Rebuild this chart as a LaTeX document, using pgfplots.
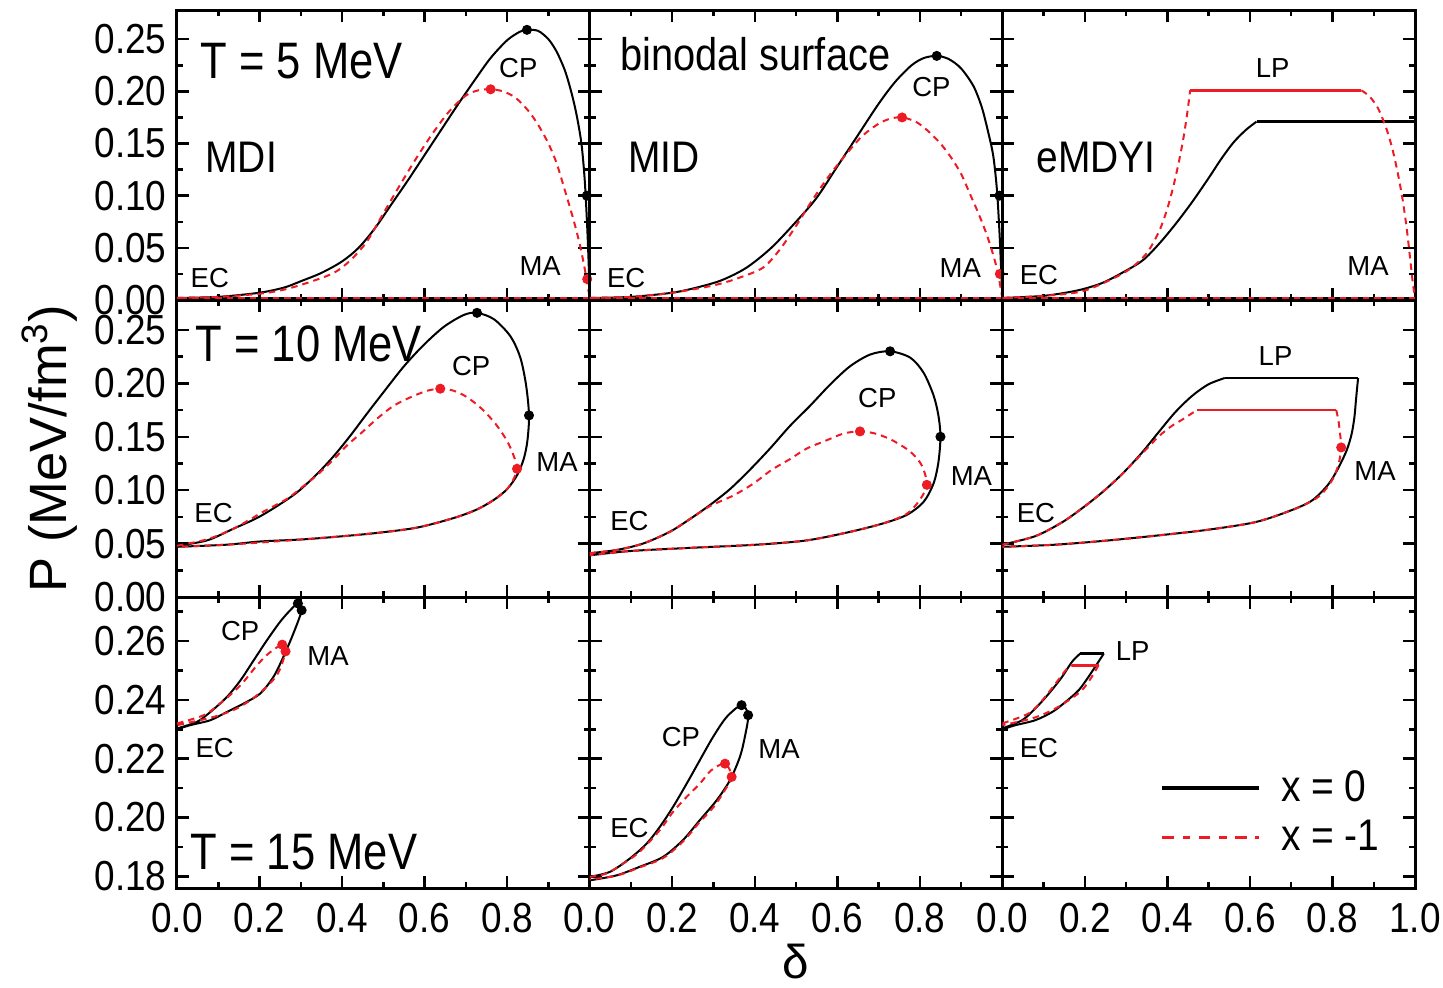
\documentclass[border=0pt]{standalone}
\usepackage{fontspec}
\setmainfont{Liberation Sans}
\usepackage{graphicx}
\usepackage{pgfplots}
\pgfplotsset{compat=1.18}
\usepgfplotslibrary{groupplots}
\definecolor{myred}{RGB}{237,28,36}
\pgfkeys{/pgf/number format/assume math mode=true}
\newcommand{\sx}[1]{\scalebox{0.88}[1]{#1}}
\tikzset{
 lsm/.style={font=\fontsize{11}{11}\selectfont, inner sep=0pt},
 lbig/.style={font=\fontsize{20.5}{20.5}\selectfont, inner sep=0pt, anchor=west},
 lmd/.style={font=\fontsize{17.7}{17.7}\selectfont, inner sep=0pt, anchor=west},
}
\pgfplotsset{
 blk/.style={black, line width=0.8pt, smooth, tension=0.5, mark=none},
 rd/.style={myred, line width=0.8pt, dash pattern=on 2.6pt off 2pt, smooth, tension=0.5, mark=none},
 blkf/.style={black, line width=1.1pt, mark=none},
 rdf/.style={myred, line width=1.1pt, mark=none},
 bm/.style={only marks, mark=*, mark size=1.8pt, black},
 rm/.style={only marks, mark=*, mark size=1.8pt, myred},
 xlab/.style={xticklabel={\sx{\pgfmathprintnumber[fixed,fixed zerofill,precision=1]{\tick}}}},
 nox/.style={xticklabels={}},
 ylab/.style={yticklabel={\sx{\pgfmathprintnumber[fixed,fixed zerofill,precision=2]{\tick}}}},
 noy/.style={yticklabels={}},
 rowA/.style={ymin=0, ymax=0.278, ytick={0,0.05,0.10,0.15,0.20,0.25}, minor ytick={0.025,0.075,0.125,0.175,0.225}, height=116pt},
 rowB/.style={ymin=0, ymax=0.278, ytick={0,0.05,0.10,0.15,0.20,0.25}, minor ytick={0.025,0.075,0.125,0.175,0.225}, height=118.8pt},
 rowC/.style={ymin=0.176, ymax=0.275, ytick={0.18,0.20,0.22,0.24,0.26}, minor ytick={0.19,0.21,0.23,0.25,0.27}, height=116.4pt},
 colAB/.style={xtick={0,0.2,0.4,0.6,0.8}},
 colC/.style={xtick={0,0.2,0.4,0.6,0.8,1.0}},
}
\begin{document}
\begin{tikzpicture}
\begin{groupplot}[
 group style={group size=3 by 3, horizontal sep=0pt, vertical sep=0pt},
 scale only axis, width=165.07pt,
 xmin=0, xmax=1, minor xtick={0.1,0.3,0.5,0.7,0.9},
 tick align=inside, xtick pos=both, ytick pos=both,
 major tick length=4.8pt, minor tick length=2.4pt,
 axis line style={line width=1.2pt},
 every tick/.style={black, line width=1pt},
 tick label style={font=\fontsize{16.8}{16.8}\selectfont},
 xticklabel style={inner sep=0pt, yshift=-6pt},
 yticklabel style={inner sep=0pt, xshift=-4pt},
 clip=true,
]
% ---------- row 1 col 1 : MDI, T = 5 MeV
\nextgroupplot[rowA, colAB, nox, ylab]
\addplot[blk] coordinates {(0,0.002) (0.1,0.003) (0.2,0.007) (0.26,0.012) (0.30,0.018) (0.35,0.026) (0.40,0.037) (0.44,0.050) (0.48,0.069) (0.52,0.092) (0.56,0.115) (0.60,0.139) (0.64,0.163) (0.68,0.187) (0.72,0.210) (0.76,0.232) (0.80,0.249) (0.83,0.257) (0.848,0.259) (0.875,0.258) (0.90,0.250) (0.92,0.238) (0.94,0.220) (0.955,0.200) (0.968,0.178) (0.980,0.150) (0.988,0.115) (0.994,0.070) (0.998,0.030) (1.0,0.003)};
\addplot[blkf, line width=0.8pt] coordinates {(1.0,0.002) (0,0.002)};
\addplot[rd] coordinates {(0,0.002) (0.1,0.003) (0.2,0.006) (0.26,0.010) (0.32,0.017) (0.38,0.026) (0.42,0.038) (0.46,0.056) (0.50,0.083) (0.54,0.110) (0.58,0.136) (0.62,0.160) (0.66,0.181) (0.70,0.196) (0.73,0.201) (0.760,0.202) (0.79,0.200) (0.82,0.194) (0.85,0.182) (0.875,0.168) (0.90,0.150) (0.92,0.131) (0.94,0.105) (0.96,0.078) (0.975,0.055) (0.988,0.030) (1.0,0.002)};
\addplot[rd, smooth=false] coordinates {(1.0,0.002) (0,0.002)};
\addplot[bm] coordinates {(0.848,0.259) (0.993,0.100)};
\addplot[rm] coordinates {(0.760,0.202) (0.994,0.020)};
\node[lbig] at (axis cs:0.056,0.229) {\scalebox{0.85}[1]{T = 5 MeV}};
\node[lmd] at (axis cs:0.068,0.137) {\scalebox{0.88}[1]{MDI}};
\node[lsm, anchor=west] at (axis cs:0.032,0.021) {EC};
\node[lsm] at (axis cs:0.827,0.222) {CP};
\node[lsm] at (axis cs:0.88,0.033) {MA};
% ---------- row 1 col 2 : MID
\nextgroupplot[rowA, colAB, nox, noy]
\addplot[blk] coordinates {(0,0.002) (0.1,0.003) (0.2,0.007) (0.26,0.012) (0.32,0.019) (0.38,0.031) (0.44,0.050) (0.50,0.075) (0.55,0.098) (0.60,0.128) (0.65,0.158) (0.70,0.188) (0.74,0.209) (0.78,0.225) (0.81,0.232) (0.841,0.234) (0.87,0.231) (0.90,0.222) (0.93,0.205) (0.95,0.185) (0.965,0.162) (0.978,0.138) (0.987,0.105) (0.993,0.065) (0.997,0.030) (1.0,0.003)};
\addplot[blkf, line width=0.8pt] coordinates {(1.0,0.002) (0,0.002)};
\addplot[rd] coordinates {(0,0.002) (0.1,0.003) (0.2,0.007) (0.30,0.014) (0.36,0.021) (0.42,0.031) (0.46,0.048) (0.50,0.071) (0.54,0.096) (0.58,0.119) (0.62,0.139) (0.66,0.157) (0.70,0.169) (0.73,0.174) (0.757,0.175) (0.79,0.171) (0.82,0.162) (0.85,0.150) (0.875,0.137) (0.90,0.121) (0.92,0.103) (0.94,0.085) (0.96,0.065) (0.975,0.047) (0.988,0.028) (1.0,0.002)};
\addplot[rd, smooth=false] coordinates {(1.0,0.002) (0,0.002)};
\addplot[bm] coordinates {(0.841,0.234) (0.993,0.100)};
\addplot[rm] coordinates {(0.757,0.175) (0.994,0.025)};
\node[lmd, font=\fontsize{18.3}{18.3}\selectfont] at (axis cs:0.073,0.236) {\scalebox{0.87}[1]{binodal surface}};
\node[lmd] at (axis cs:0.092,0.137) {\scalebox{0.88}[1]{MID}};
\node[lsm, anchor=west] at (axis cs:0.041,0.021) {EC};
\node[lsm] at (axis cs:0.828,0.204) {CP};
\node[lsm] at (axis cs:0.898,0.031) {MA};
% ---------- row 1 col 3 : eMDYI
\nextgroupplot[rowA, colC, nox, noy]
\addplot[blk] coordinates {(0,0.002) (0.1,0.004) (0.18,0.009) (0.24,0.016) (0.29,0.026) (0.34,0.038) (0.38,0.054) (0.42,0.073) (0.46,0.094) (0.50,0.117) (0.53,0.135) (0.56,0.151) (0.59,0.163) (0.616,0.171)};
\addplot[blkf] coordinates {(0.616,0.171) (1.0,0.171) (1.0,0.002)};
\addplot[blkf, line width=0.8pt] coordinates {(1.0,0.002) (0,0.002)};
\addplot[rd] coordinates {(0,0.002) (0.1,0.004) (0.19,0.008) (0.26,0.019) (0.31,0.030) (0.35,0.045) (0.38,0.066) (0.40,0.088) (0.415,0.110) (0.428,0.133) (0.440,0.158) (0.449,0.182) (0.455,0.201)};
\addplot[rdf] coordinates {(0.455,0.201) (0.870,0.201)};
\addplot[rd] coordinates {(0.870,0.201) (0.89,0.195) (0.91,0.184) (0.93,0.165) (0.945,0.145) (0.958,0.122) (0.97,0.096) (0.98,0.068) (0.988,0.040) (0.995,0.015) (1.0,0.003)};
\addplot[rd, smooth=false] coordinates {(1.0,0.002) (0,0.002)};
\node[lmd] at (axis cs:0.082,0.137) {\scalebox{0.88}[1]{eMDYI}};
\node[lsm, anchor=west] at (axis cs:0.041,0.024) {EC};
\node[lsm] at (axis cs:0.655,0.222) {LP};
\node[lsm] at (axis cs:0.886,0.033) {MA};
% ---------- row 2 col 1 : MDI, T = 10 MeV
\nextgroupplot[rowB, colAB, nox, ylab]
\addplot[blk] coordinates {(0,0.048) (0.073,0.053) (0.137,0.064) (0.194,0.074) (0.242,0.085) (0.291,0.098) (0.339,0.115) (0.380,0.132) (0.420,0.151) (0.461,0.172) (0.501,0.192) (0.550,0.216) (0.598,0.236) (0.647,0.253) (0.695,0.264) (0.727,0.266) (0.768,0.260) (0.808,0.244) (0.832,0.224) (0.846,0.198) (0.853,0.170) (0.849,0.146) (0.840,0.129) (0.824,0.114) (0.800,0.101) (0.768,0.091) (0.727,0.082) (0.671,0.074) (0.582,0.065) (0.485,0.060) (0.404,0.057) (0.307,0.054) (0.202,0.052) (0.121,0.049) (0,0.047)};
\addplot[rd] coordinates {(0,0.048) (0.073,0.054) (0.137,0.064) (0.210,0.080) (0.267,0.092) (0.307,0.104) (0.339,0.114) (0.380,0.129) (0.412,0.142) (0.448,0.154) (0.485,0.167) (0.525,0.179) (0.566,0.187) (0.606,0.193) (0.638,0.195) (0.671,0.193) (0.703,0.187) (0.739,0.176) (0.772,0.162) (0.800,0.146) (0.816,0.132) (0.824,0.120) (0.808,0.105) (0.776,0.093) (0.727,0.082) (0.671,0.074) (0.582,0.065) (0.485,0.060) (0.404,0.057) (0.307,0.054) (0.202,0.051) (0.121,0.049) (0,0.047)};
\addplot[bm] coordinates {(0.727,0.266) (0.853,0.170)};
\addplot[rm] coordinates {(0.638,0.195) (0.824,0.120)};
\node[lbig] at (axis cs:0.044,0.237) {\scalebox{0.85}[1]{T = 10 MeV}};
\node[lsm] at (axis cs:0.713,0.216) {CP};
\node[lsm] at (axis cs:0.921,0.126) {MA};
\node[lsm, anchor=west] at (axis cs:0.041,0.079) {EC};
% ---------- row 2 col 2 : MID
\nextgroupplot[rowB, colAB, nox, noy]
\addplot[blk] coordinates {(0,0.041) (0.065,0.044) (0.129,0.050) (0.194,0.061) (0.243,0.073) (0.291,0.086) (0.340,0.101) (0.388,0.119) (0.437,0.139) (0.485,0.160) (0.534,0.179) (0.583,0.199) (0.631,0.216) (0.680,0.227) (0.728,0.230) (0.777,0.224) (0.809,0.210) (0.833,0.189) (0.845,0.170) (0.850,0.150) (0.845,0.126) (0.833,0.106) (0.809,0.089) (0.769,0.077) (0.712,0.069) (0.631,0.061) (0.526,0.053) (0.405,0.049) (0.243,0.046) (0.097,0.043) (0,0.039)};
\addplot[rd] coordinates {(0,0.041) (0.065,0.044) (0.129,0.050) (0.194,0.061) (0.243,0.073) (0.291,0.085) (0.348,0.095) (0.396,0.106) (0.441,0.119) (0.485,0.129) (0.526,0.139) (0.570,0.146) (0.615,0.153) (0.655,0.155) (0.692,0.153) (0.732,0.147) (0.777,0.136) (0.805,0.123) (0.817,0.105) (0.800,0.091) (0.769,0.078) (0.712,0.069) (0.631,0.061) (0.526,0.053) (0.405,0.049) (0.243,0.046) (0.097,0.043) (0,0.039)};
\addplot[bm] coordinates {(0.728,0.230) (0.850,0.150)};
\addplot[rm] coordinates {(0.655,0.155) (0.817,0.105)};
\node[lsm] at (axis cs:0.697,0.186) {CP};
\node[lsm] at (axis cs:0.925,0.113) {MA};
\node[lsm, anchor=west] at (axis cs:0.049,0.071) {EC};
% ---------- row 2 col 3 : eMDYI
\nextgroupplot[rowB, colC, nox, noy]
\addplot[blk] coordinates {(0,0.049) (0.080,0.057) (0.145,0.070) (0.193,0.083) (0.242,0.098) (0.290,0.115) (0.338,0.135) (0.378,0.154) (0.419,0.173) (0.459,0.188) (0.499,0.199) (0.539,0.205)};
\addplot[blkf] coordinates {(0.539,0.205) (0.862,0.205)};
\addplot[blk] coordinates {(0.862,0.205) (0.857,0.185) (0.853,0.168) (0.846,0.152) (0.834,0.137) (0.813,0.120) (0.789,0.105) (0.749,0.090) (0.692,0.080) (0.612,0.070) (0.499,0.063) (0.386,0.058) (0.258,0.053) (0.129,0.049) (0,0.047)};
\addplot[rd] coordinates {(0,0.049) (0.080,0.057) (0.145,0.070) (0.193,0.083) (0.242,0.098) (0.290,0.115) (0.338,0.134) (0.378,0.150) (0.410,0.160) (0.440,0.167) (0.471,0.175)};
\addplot[rdf] coordinates {(0.471,0.175) (0.809,0.175)};
\addplot[rd] coordinates {(0.809,0.175) (0.814,0.166) (0.818,0.154) (0.821,0.140) (0.815,0.125) (0.800,0.110) (0.770,0.095) (0.730,0.086) (0.692,0.080) (0.612,0.070) (0.499,0.063) (0.386,0.058) (0.258,0.053) (0.129,0.049) (0,0.047)};
\addplot[rm] coordinates {(0.821,0.140)};
\node[lsm] at (axis cs:0.662,0.226) {LP};
\node[lsm] at (axis cs:0.903,0.118) {MA};
\node[lsm, anchor=west] at (axis cs:0.034,0.079) {EC};
% ---------- row 3 col 1 : MDI, T = 15 MeV
\nextgroupplot[rowC, colAB, xlab, ylab]
\addplot[blk] coordinates {(0,0.2303) (0.048,0.2325) (0.081,0.2359) (0.121,0.2410) (0.154,0.2467) (0.186,0.2535) (0.218,0.2603) (0.250,0.2666) (0.275,0.2706) (0.293,0.2728) (0.302,0.2705) (0.282,0.2626) (0.258,0.2547) (0.234,0.2479) (0.202,0.2422) (0.162,0.2388) (0.121,0.2359) (0.081,0.2331) (0.032,0.2314) (0,0.2300)};
\addplot[rd] coordinates {(0,0.2320) (0.065,0.2348) (0.105,0.2388) (0.154,0.2450) (0.194,0.2518) (0.222,0.2558) (0.255,0.2588) (0.263,0.2565) (0.242,0.2484) (0.194,0.2416) (0.145,0.2371) (0.089,0.2342) (0,0.2314)};
\addplot[bm] coordinates {(0.293,0.2728) (0.302,0.2705)};
\addplot[rm] coordinates {(0.255,0.2588) (0.263,0.2565)};
\node[lsm] at (axis cs:0.153,0.2635) {CP};
\node[lsm] at (axis cs:0.366,0.255) {MA};
\node[lsm, anchor=west] at (axis cs:0.044,0.2237) {EC};
\node[lbig] at (axis cs:0.032,0.1883) {\scalebox{0.85}[1]{T = 15 MeV}};
% ---------- row 3 col 2 : MID
\nextgroupplot[rowC, colAB, xlab, noy]
\addplot[blk] coordinates {(0,0.1798) (0.049,0.1815) (0.097,0.1860) (0.138,0.1911) (0.170,0.1968) (0.202,0.2036) (0.235,0.2115) (0.267,0.2195) (0.299,0.2274) (0.332,0.2342) (0.368,0.2382) (0.384,0.2348) (0.376,0.2274) (0.364,0.2206) (0.340,0.2127) (0.308,0.2059) (0.267,0.1991) (0.226,0.1923) (0.178,0.1866) (0.121,0.1832) (0.065,0.1803) (0,0.1786)};
\addplot[rd] coordinates {(0,0.1798) (0.040,0.1809) (0.081,0.1843) (0.121,0.1883) (0.170,0.1957) (0.202,0.2019) (0.235,0.2070) (0.267,0.2115) (0.295,0.2161) (0.328,0.2183) (0.344,0.2138) (0.324,0.2085) (0.300,0.2035) (0.267,0.1985) (0.226,0.1918) (0.178,0.1862) (0.121,0.1830) (0.065,0.1802) (0,0.1789)};
\addplot[bm] coordinates {(0.368,0.2382) (0.384,0.2348)};
\addplot[rm] coordinates {(0.328,0.2183) (0.344,0.2138)};
\node[lsm] at (axis cs:0.221,0.2274) {CP};
\node[lsm] at (axis cs:0.459,0.2233) {MA};
\node[lsm, anchor=west] at (axis cs:0.049,0.1964) {EC};
% ---------- row 3 col 3 : eMDYI
\nextgroupplot[rowC, colC, xlab, noy,
 legend style={draw=none, fill=none, at={(axis description cs:0.382,0.405)}, anchor=north west, inner sep=0pt, font=\fontsize{17.7}{17.7}\selectfont, row sep=6pt, nodes={inner sep=0pt}, /tikz/every odd column/.append style={column sep=8pt}},
 legend cell align=left,
 legend image code/.code={\draw[#1] (0pt,0pt) -- (38.8pt,0pt);}]
\addlegendimage{black, line width=1.4pt}
\addlegendentry{\sx{x = 0}}
\addlegendimage{myred, line width=1.4pt, dash pattern=on 4.7pt off 3.5pt on 3pt off 3.3pt}
\addlegendentry{\sx{x = -1}}
\addplot[blk] coordinates {(0,0.2303) (0.048,0.2331) (0.080,0.2371) (0.113,0.2422) (0.145,0.2479) (0.169,0.2530) (0.189,0.2558)};
\addplot[blkf] coordinates {(0.189,0.2558) (0.246,0.2558)};
\addplot[blk] coordinates {(0.246,0.2558) (0.233,0.2530) (0.209,0.2479) (0.185,0.2433) (0.153,0.2393) (0.121,0.2359) (0.080,0.2331) (0.032,0.2314) (0,0.2300)};
\addplot[rd] coordinates {(0,0.2320) (0.064,0.2354) (0.097,0.2399) (0.129,0.2456) (0.157,0.2507) (0.169,0.2518)};
\addplot[rdf] coordinates {(0.169,0.2518) (0.233,0.2518)};
\addplot[rd] coordinates {(0.233,0.2518) (0.217,0.2479) (0.193,0.2433) (0.161,0.2399) (0.121,0.2365) (0.072,0.2337) (0,0.2314)};
\node[lsm] at (axis cs:0.316,0.2567) {LP};
\node[lsm, anchor=west] at (axis cs:0.041,0.2237) {EC};
\end{groupplot}
\node[rotate=90, font=\fontsize{21}{21}\selectfont] at ([xshift=-50.8pt]group c1r2.west) {P (MeV/fm\textsuperscript{3})};
\node[font=\fontsize{19}{19}\selectfont] at ([yshift=-29.6pt]group c2r3.south) {δ};
\path (group c1r3.south west) ++(-70.8pt,-39.2pt) rectangle ++(577.2pt,394.4pt);
\end{tikzpicture}
\end{document}
